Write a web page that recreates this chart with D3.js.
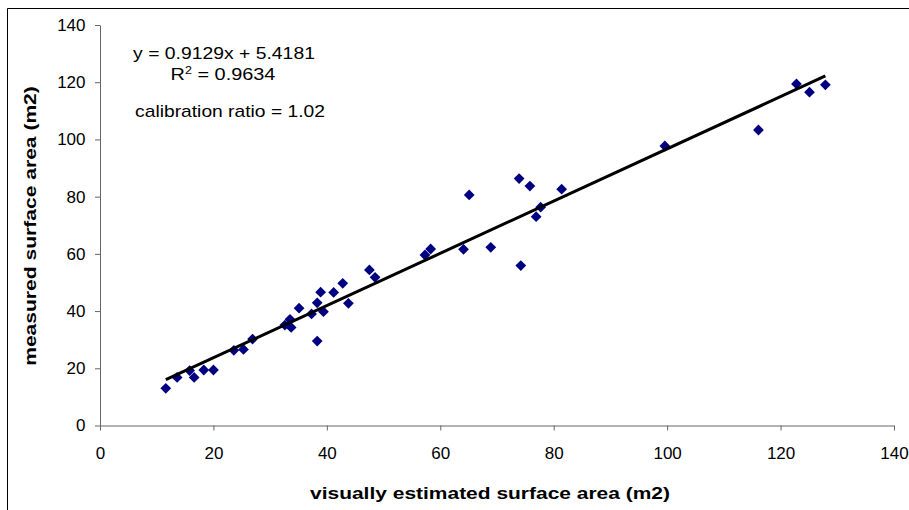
<!DOCTYPE html>
<html>
<head>
<meta charset="utf-8">
<script src="https://cdn.jsdelivr.net/npm/d3@7"></script>
<style>
  body { margin: 0; background: #fff; }
  svg { font-family: "Liberation Sans", Arial, sans-serif; }
</style>
</head>
<body>
<svg id="chart" width="909" height="510"></svg>
<script>
// visually estimated (x) vs measured (y) surface area, m2
var estimated = [11.6, 13.6, 15.8, 16.6, 18.3, 20.0, 23.6, 25.3, 26.9, 32.6,
                 33.5, 33.7, 35.1, 37.3, 38.3, 38.3, 38.9, 39.4, 41.2, 42.8,
                 43.8, 47.5, 48.5, 57.3, 58.3, 64.1, 65.1, 68.9, 73.9, 74.2,
                 75.8, 76.9, 77.7, 81.4, 99.6, 116.1, 122.8, 125.1, 127.9];
var measured  = [13.0, 16.8, 19.2, 16.8, 19.4, 19.4, 26.3, 26.6, 30.2, 35.1,
                 37.1, 34.3, 41.0, 39.0, 42.9, 29.5, 46.6, 39.8, 46.5, 49.7,
                 42.7, 54.4, 51.8, 59.6, 61.7, 61.6, 80.6, 62.3, 86.3, 55.9,
                 83.7, 73.0, 76.3, 82.6, 97.7, 103.3, 119.4, 116.5, 119.1];
var ticks = [0, 20, 40, 60, 80, 100, 120, 140];
var slope = 0.9129, intercept = 5.4181;
var labels = ["y = 0.9129x + 5.4181", "R² = 0.9634", "calibration ratio = 1.02"];

var svg = d3.select("#chart");

// stretch a text group horizontally so it spans the wanted width
function fit(g, width){
  var w = g.node().getBBox().width;
  g.attr("transform", g.attr("transform") + " scale(" + (width / w) + ",1)");
}

// outer frame (left and top edges visible)
svg.append("line").attr("x1", 7.5).attr("y1", 8.5).attr("x2", 7.5).attr("y2", 510)
   .attr("stroke", "#000").attr("stroke-width", 1);
svg.append("line").attr("x1", 7.5).attr("y1", 8.5).attr("x2", 909).attr("y2", 8.5)
   .attr("stroke", "#000").attr("stroke-width", 1);

var x = d3.scaleLinear().domain([0, 140]).range([100, 894]);
var y = d3.scaleLinear().domain([0, 140]).range([425.5, 25]);

var xAxis = svg.append("g")
   .attr("transform", "translate(0," + y(0) + ")")
   .call(d3.axisBottom(x).tickValues(ticks).tickSize(5).tickSizeOuter(0));
var yAxis = svg.append("g")
   .attr("transform", "translate(" + x(0) + ",0)")
   .call(d3.axisLeft(y).tickValues(ticks).tickSize(5).tickSizeOuter(0));

[xAxis, yAxis].forEach(function(a){
  a.select(".domain").attr("stroke", "#666");
  a.selectAll(".tick line").attr("stroke", "#666");
  a.selectAll(".tick text").attr("font-size", "17px").attr("fill", "#000")
   .attr("font-family", "Liberation Sans, Arial, sans-serif");
});
xAxis.selectAll(".tick text").attr("y", 33.5).attr("dy", 0);
yAxis.selectAll(".tick text").attr("x", -14.5);

// points
var pts = estimated.map(function(d, i){ return {x: d, y: measured[i]}; });
svg.selectAll(".pt")
   .data(pts)
   .enter().append("path")
   .attr("class", "pt")
   .attr("d", d3.symbol().type(d3.symbolDiamond2).size(74))
   .attr("transform", function(d){ return "translate(" + x(d.x) + "," + y(d.y) + ")"; })
   .attr("fill", "#000080");

// linear trend line
var xmin = d3.min(estimated), xmax = d3.max(estimated);
svg.append("line")
   .attr("x1", x(xmin)).attr("y1", y(slope * xmin + intercept))
   .attr("x2", x(xmax)).attr("y2", y(slope * xmax + intercept))
   .attr("stroke", "#000").attr("stroke-width", 3);

// annotation
var g1 = svg.append("g").attr("transform", "translate(224,59)");
g1.append("text").attr("text-anchor", "middle").attr("font-size", "16px").text(labels[0]);
fit(g1, 182);

var g2 = svg.append("g").attr("transform", "translate(223,80)");
var r2 = g2.append("text").attr("text-anchor", "middle").attr("font-size", "16px");
r2.append("tspan").text("R");
r2.append("tspan").attr("font-size", "10px").attr("dy", "-6").text("2");
r2.append("tspan").attr("dy", "6").text(labels[1].slice(2));
fit(g2, 105);

var g3 = svg.append("g").attr("transform", "translate(230,117)");
g3.append("text").attr("text-anchor", "middle").attr("font-size", "16px").text(labels[2]);
fit(g3, 190);

// axis titles
var gx = svg.append("g").attr("transform", "translate(490,499)");
gx.append("text").attr("text-anchor", "middle")
   .attr("font-size", "17px").attr("font-weight", "bold")
   .text("visually estimated surface area (m2)");
fit(gx, 360);

var gy = svg.append("g").attr("transform", "translate(36,226) rotate(-90)");
gy.append("text").attr("text-anchor", "middle")
   .attr("font-size", "17px").attr("font-weight", "bold")
   .text("measured surface area (m2)");
fit(gy, 280);
</script>
</body>
</html>
